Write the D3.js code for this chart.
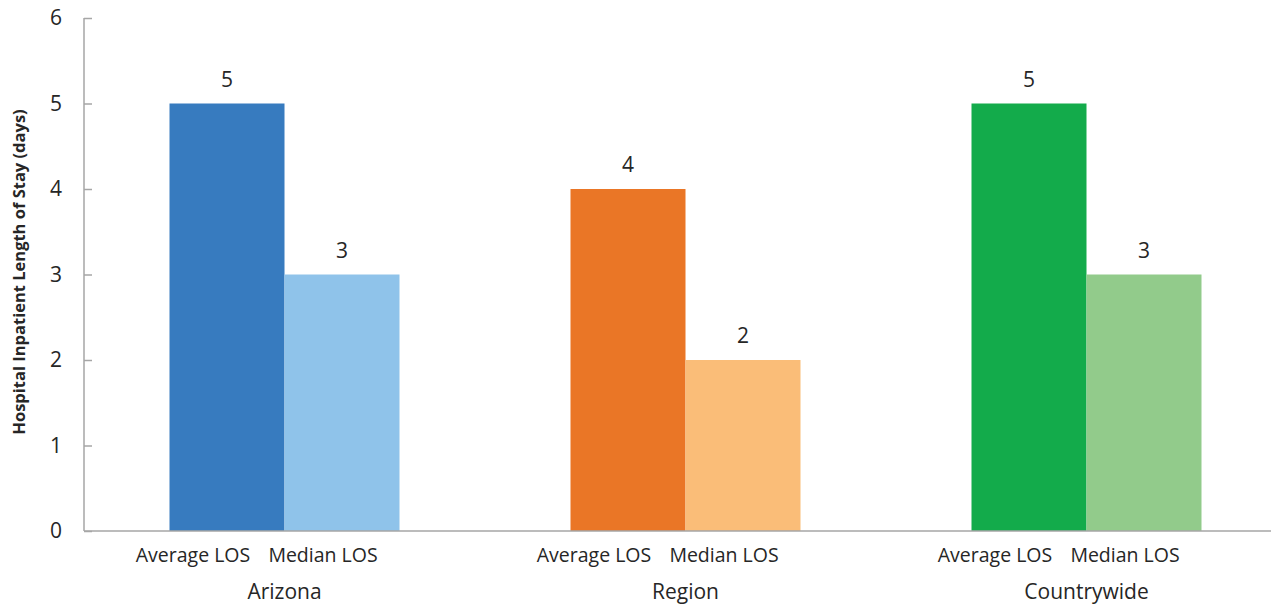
<!DOCTYPE html>
<html><head><meta charset="utf-8">
<script src="https://cdn.jsdelivr.net/npm/d3@7"></script>
<style>body{margin:0;background:#fff;} text{font-family:"Open Sans","Liberation Sans",sans-serif;fill:#262626;}</style>
</head><body>
<svg id="chart" width="1271" height="604"></svg>
<script>
const categories = ["Arizona", "Region", "Countrywide"];
const measures = ["Average LOS", "Median LOS"];
const averageLOS = [5, 4, 5];
const medianLOS = [3, 2, 3];
const yTicks = [0, 1, 2, 3, 4, 5, 6];
const colors = [["#377bbf", "#8fc3ea"], ["#ea7626", "#fabd78"], ["#13ab4b", "#92cb8b"]];

const svg = d3.select("#chart");
const x0 = d3.scaleBand().domain(categories).range([84, 1287]).paddingInner(0).paddingOuter(0);
const y = d3.scaleLinear().domain([0, 6]).range([531, 18]);
const barW = 115;
const x1 = d3.scaleBand().domain(measures).range([x0.bandwidth()/2 - barW, x0.bandwidth()/2 + barW]);
const labelShift = [-34, -19];

// bars
categories.forEach((c, i) => {
  const vals = [averageLOS[i], medianLOS[i]];
  const g = svg.append("g").attr("transform", `translate(${x0(c)},0)`);
  measures.forEach((m, j) => {
    g.append("rect").attr("x", x1(m)).attr("width", x1.bandwidth())
      .attr("y", y(vals[j])).attr("height", y(0) - y(vals[j])).attr("fill", colors[i][j]);
    g.append("text").attr("x", x1(m) + x1.bandwidth()/2).attr("y", y(vals[j]) - 17)
      .attr("text-anchor", "middle").style("font-size", "21px").text(vals[j]);
    g.append("text").attr("x", x1(m) + x1.bandwidth()/2 + labelShift[j]).attr("y", 562)
      .attr("text-anchor", "middle").style("font-size", "19.5px").text(m);
  });
  g.append("text").attr("x", x0.bandwidth()/2).attr("y", 599)
    .attr("text-anchor", "middle").style("font-size", "21px").text(c);
});

// y axis
const yAxis = svg.append("g").attr("transform", "translate(84,0)")
  .call(d3.axisRight(y).tickValues(yTicks).tickSize(8).tickFormat(""));
yAxis.select(".domain").attr("stroke", "#a6a6a6").attr("stroke-width", 1.5).attr("d", "M0,18V531");
yAxis.selectAll(".tick line").attr("stroke", "#a6a6a6").attr("stroke-width", 1.5);
svg.append("g").selectAll("text").data(yTicks).join("text")
  .attr("x", 62).attr("y", d => y(d) + 7).attr("text-anchor", "end")
  .style("font-size", "21px").text(d => d);

// x axis line
svg.append("line").attr("x1", 84).attr("x2", 1271).attr("y1", y(0)).attr("y2", y(0))
  .attr("stroke", "#a6a6a6").attr("stroke-width", 1.5);

// y title
svg.append("text").attr("transform", `translate(25,272) rotate(-90)`)
  .attr("text-anchor", "middle").style("font-size", "16.5px").style("font-weight", "bold")
  .text("Hospital Inpatient Length of Stay (days)");
</script>
</body></html>
